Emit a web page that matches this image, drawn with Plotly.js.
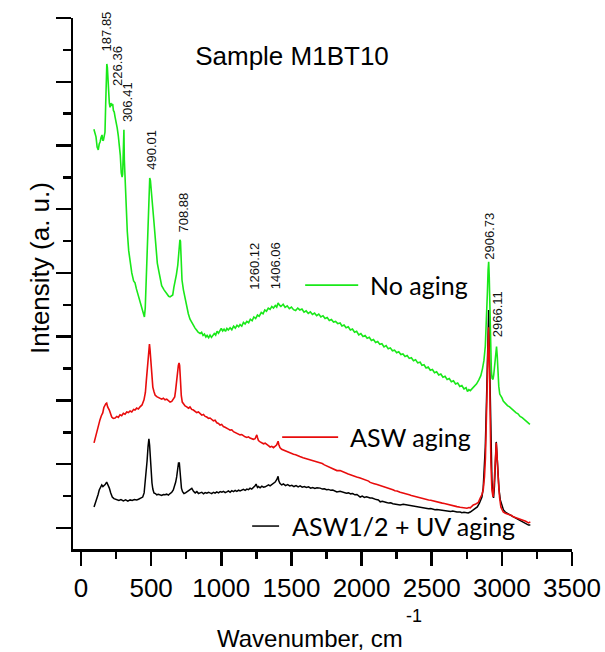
<!DOCTYPE html>
<html>
<head>
<meta charset="utf-8">
<script src="https://cdn.plot.ly/plotly-3.0.1.min.js"></script>
<style>html,body{margin:0;padding:0;background:#fff;}#chart{width:605px;height:652px;}</style>
</head>
<body>
<div id="chart"></div>
<script>
// ---- Data (wavenumber in cm^-1, intensity in arbitrary units) ----
const noAgingX = [92,100,107,115,123,130,136,143,150,155,160,166,171,176,180,184,188,192,197,202,207,213,219,226,231,237,243,250,258,266,273,280,287,293,297,302,306,309,314,321,330,340,350,362,375,385,395,405,415,425,435,445,452,458,465,472,478,484,490,495,500,505,511,520,528,536,544,555,564,575,592,605,615,625,635,645,654,662,670,680,690,696,701,705,709,713,720,730,742,754,765,777,790,800,813,825,835,849,860,870,880,890,899,910,920,930,941,950,960,970,980,991,1000,1010,1020,1030,1040,1050,1063,1075,1088,1100,1112,1124,1134,1146,1158,1170,1182,1195,1207,1220,1232,1245,1258,1270,1285,1298,1310,1322,1335,1348,1360,1372,1385,1395,1405,1415,1425,1441,1455,1470,1485,1500,1515,1530,1545,1560,1575,1590,1605,1620,1635,1650,1665,1680,1695,1710,1725,1740,1755,1770,1785,1800,1815,1830,1847,1860,1875,1890,1905,1920,1935,1950,1965,1980,1995,2010,2025,2040,2055,2070,2085,2100,2115,2130,2145,2160,2175,2190,2205,2220,2235,2250,2265,2280,2295,2310,2325,2340,2355,2370,2385,2400,2418,2430,2445,2460,2475,2490,2505,2520,2535,2550,2565,2580,2595,2610,2625,2640,2655,2670,2685,2700,2715,2730,2745,2755,2765,2775,2790,2805,2820,2835,2850,2862,2872,2882,2890,2897,2902,2906,2910,2915,2920,2925,2930,2937,2942,2950,2957,2962,2967,2972,2978,2985,2993,3001,3010,3025,3040,3055,3070,3085,3100,3115,3130,3145,3160,3175,3190,3200];
const noAgingY = [12.51,12.35,12.27,11.95,11.86,12.05,12.11,12.25,12.33,12.15,12.17,12.30,12.42,13.30,14.20,14.56,14.45,13.96,13.50,13.33,13.20,13.33,13.27,13.30,13.10,13.05,12.89,12.75,12.55,12.30,12.08,11.70,11.14,11.01,11.10,11.80,12.49,11.55,11.00,10.07,9.30,8.70,8.31,8.00,7.75,7.69,7.50,7.35,7.20,7.06,6.85,6.68,6.62,6.90,7.90,9.00,9.90,10.60,10.98,10.90,10.70,10.35,10.07,9.60,9.13,8.70,8.31,8.05,7.78,7.60,7.47,7.38,7.31,7.27,7.25,7.28,7.31,7.55,7.69,7.95,8.25,8.60,8.95,9.04,9.00,8.31,7.78,7.47,7.20,6.93,6.72,6.55,6.44,6.36,6.27,6.20,6.14,6.10,6.14,6.04,6.08,5.99,6.04,5.97,6.05,5.98,6.04,6.10,6.05,6.17,6.11,6.21,6.26,6.18,6.24,6.17,6.26,6.21,6.28,6.22,6.33,6.27,6.36,6.31,6.38,6.33,6.45,6.40,6.48,6.44,6.55,6.50,6.62,6.57,6.68,6.64,6.76,6.72,6.84,6.80,6.90,6.86,6.95,6.90,6.98,6.93,7.06,6.99,6.95,7.02,6.92,6.97,6.88,6.93,6.85,6.82,6.90,6.84,6.87,6.77,6.81,6.73,6.78,6.70,6.74,6.66,6.71,6.62,6.66,6.57,6.60,6.51,6.54,6.46,6.48,6.41,6.43,6.34,6.37,6.28,6.31,6.21,6.24,6.14,6.17,6.06,6.10,6.01,6.04,5.95,5.98,5.88,5.91,5.82,5.85,5.76,5.78,5.68,5.72,5.62,5.65,5.56,5.58,5.50,5.53,5.44,5.46,5.38,5.41,5.32,5.34,5.25,5.28,5.18,5.20,5.10,5.12,5.02,5.05,4.95,4.97,4.87,4.90,4.80,4.83,4.73,4.76,4.66,4.69,4.59,4.62,4.52,4.55,4.44,4.47,4.36,4.40,4.28,4.34,4.31,4.38,4.45,4.52,4.64,4.78,5.00,5.25,5.70,6.40,7.40,8.10,8.35,7.90,6.80,5.60,4.95,4.70,4.66,4.80,5.25,5.60,5.69,5.40,4.85,4.45,4.20,4.15,4.08,3.98,3.90,3.84,3.80,3.73,3.68,3.62,3.58,3.50,3.46,3.40,3.37,3.30,3.25];

// [wavenumber, intensity] pairs
const aswData = [[93,2.67],[100,2.80],[112,2.98],[125,3.22],[135,3.39],[145,3.52],[155,3.61],[163,3.78],[171,3.86],[177,3.90],[183,3.92],[190,3.80],[202,3.70],[210,3.58],[219,3.48],[230,3.44],[243,3.45],[255,3.50],[266,3.47],[278,3.55],[290,3.52],[302,3.60],[314,3.57],[326,3.64],[338,3.62],[350,3.67],[362,3.64],[375,3.72],[385,3.70],[397,3.76],[409,3.73],[421,3.80],[435,3.86],[449,4.02],[459,4.25],[466,4.64],[472,5.00],[478,5.36],[483,5.60],[488,5.77],[492,5.60],[496,5.30],[500,5.05],[505,4.70],[512,4.42],[520,4.28],[528,4.17],[540,4.12],[552,4.10],[563,4.08],[575,4.04],[587,4.07],[599,4.02],[611,4.04],[623,3.98],[635,3.95],[647,3.97],[658,4.03],[668,4.11],[674,4.30],[679,4.55],[684,4.75],[689,4.95],[694,5.10],[699,5.18],[703,5.10],[707,4.80],[711,4.42],[715,4.15],[722,3.95],[730,3.90],[742,3.83],[754,3.80],[766,3.76],[777,3.80],[789,3.72],[801,3.70],[813,3.66],[825,3.62],[837,3.64],[849,3.58],[861,3.54],[873,3.56],[885,3.50],[897,3.48],[909,3.44],[920,3.45],[932,3.40],[944,3.36],[956,3.38],[968,3.30],[980,3.28],[991,3.23],[1003,3.25],[1015,3.18],[1027,3.16],[1039,3.14],[1051,3.10],[1063,3.07],[1075,3.08],[1087,3.02],[1099,3.00],[1111,2.97],[1123,2.95],[1134,2.92],[1146,2.93],[1158,2.88],[1170,2.86],[1182,2.84],[1194,2.86],[1205,2.82],[1217,2.80],[1229,2.78],[1241,2.80],[1248,2.86],[1253,2.92],[1258,2.84],[1265,2.74],[1277,2.70],[1289,2.68],[1301,2.64],[1313,2.66],[1325,2.60],[1336,2.58],[1348,2.54],[1360,2.56],[1372,2.52],[1384,2.55],[1394,2.60],[1400,2.66],[1405,2.72],[1410,2.62],[1418,2.52],[1430,2.47],[1441,2.45],[1455,2.42],[1470,2.38],[1485,2.36],[1500,2.34],[1515,2.31],[1530,2.30],[1545,2.26],[1560,2.24],[1583,2.20],[1600,2.18],[1615,2.16],[1630,2.14],[1645,2.12],[1660,2.10],[1675,2.08],[1690,2.07],[1705,2.04],[1720,2.02],[1735,1.98],[1750,1.95],[1765,1.94],[1780,1.90],[1795,1.87],[1810,1.85],[1824,1.80],[1847,1.80],[1860,1.77],[1875,1.74],[1890,1.72],[1905,1.69],[1920,1.67],[1935,1.64],[1950,1.62],[1965,1.60],[1990,1.57],[2005,1.55],[2020,1.52],[2035,1.50],[2050,1.47],[2061,1.43],[2075,1.42],[2090,1.39],[2105,1.37],[2120,1.35],[2133,1.34],[2148,1.32],[2163,1.29],[2178,1.27],[2193,1.25],[2208,1.22],[2223,1.20],[2238,1.17],[2253,1.16],[2275,1.12],[2297,1.10],[2310,1.08],[2325,1.06],[2340,1.04],[2355,1.02],[2370,1.00],[2385,0.98],[2400,0.96],[2418,0.94],[2433,0.93],[2448,0.91],[2463,0.90],[2478,0.88],[2493,0.87],[2508,0.85],[2523,0.84],[2537,0.82],[2561,0.80],[2575,0.78],[2590,0.77],[2605,0.75],[2620,0.73],[2635,0.72],[2650,0.70],[2665,0.69],[2680,0.67],[2703,0.65],[2715,0.64],[2730,0.63],[2751,0.62],[2765,0.64],[2775,0.63],[2786,0.68],[2796,0.72],[2810,0.74],[2822,0.77],[2832,0.80],[2846,0.94],[2858,1.05],[2867,1.19],[2876,1.60],[2883,2.20],[2889,3.07],[2895,4.40],[2901,5.68],[2906,6.30],[2911,5.20],[2916,3.60],[2922,2.04],[2929,1.20],[2937,0.97],[2944,1.30],[2950,1.90],[2956,2.40],[2960,2.67],[2964,2.40],[2969,1.90],[2976,1.41],[2984,0.95],[2993,0.66],[3001,0.58],[3010,0.50],[3025,0.46],[3040,0.44],[3055,0.40],[3070,0.39],[3081,0.35],[3095,0.33],[3110,0.30],[3125,0.29],[3140,0.26],[3155,0.24],[3170,0.21],[3190,0.16],[3203,0.19]];

const uvData = [[93,0.66],[100,0.75],[112,0.88],[122,1.05],[130,1.19],[140,1.30],[148,1.35],[156,1.30],[164,1.32],[172,1.36],[183,1.44],[190,1.38],[202,1.25],[212,1.10],[223,0.97],[235,0.92],[255,0.88],[270,0.86],[285,0.89],[302,0.85],[318,0.88],[334,0.84],[350,0.88],[365,0.86],[380,0.89],[397,0.88],[410,0.90],[425,0.93],[440,0.97],[450,1.10],[458,1.41],[465,1.75],[471,2.10],[478,2.55],[484,2.80],[489,2.60],[494,2.13],[500,1.70],[506,1.41],[512,1.22],[520,1.10],[530,1.08],[540,1.04],[552,1.06],[563,1.04],[575,1.02],[587,1.05],[599,1.04],[611,1.06],[623,1.03],[635,1.08],[647,1.12],[658,1.19],[668,1.30],[675,1.44],[682,1.60],[689,1.85],[695,2.04],[701,2.04],[706,1.80],[711,1.45],[716,1.25],[724,1.14],[734,1.08],[745,1.10],[756,1.13],[768,1.18],[780,1.20],[790,1.24],[802,1.15],[814,1.10],[826,1.14],[838,1.08],[849,1.10],[861,1.12],[873,1.07],[885,1.11],[897,1.09],[909,1.12],[920,1.10],[932,1.08],[944,1.12],[956,1.09],[968,1.13],[980,1.10],[992,1.14],[1004,1.12],[1016,1.15],[1028,1.11],[1039,1.13],[1051,1.16],[1063,1.12],[1075,1.17],[1087,1.14],[1099,1.18],[1111,1.15],[1123,1.19],[1134,1.16],[1146,1.19],[1158,1.21],[1170,1.18],[1182,1.22],[1194,1.20],[1205,1.25],[1217,1.22],[1229,1.26],[1241,1.32],[1248,1.38],[1253,1.33],[1258,1.27],[1265,1.30],[1277,1.26],[1289,1.31],[1301,1.28],[1313,1.29],[1325,1.33],[1337,1.35],[1348,1.32],[1360,1.36],[1372,1.38],[1384,1.44],[1396,1.52],[1401,1.60],[1405,1.62],[1410,1.48],[1418,1.40],[1430,1.35],[1443,1.38],[1458,1.33],[1473,1.36],[1488,1.32],[1503,1.34],[1518,1.30],[1533,1.33],[1548,1.29],[1562,1.32],[1577,1.28],[1592,1.30],[1607,1.27],[1622,1.29],[1637,1.25],[1652,1.27],[1667,1.24],[1682,1.26],[1705,1.25],[1720,1.22],[1735,1.23],[1750,1.20],[1765,1.21],[1780,1.18],[1795,1.19],[1810,1.16],[1824,1.13],[1847,1.15],[1862,1.13],[1877,1.12],[1892,1.09],[1907,1.10],[1922,1.07],[1937,1.08],[1952,1.04],[1967,1.05],[1990,0.97],[2005,1.00],[2020,0.96],[2035,0.98],[2050,0.95],[2061,0.94],[2075,0.94],[2090,0.91],[2105,0.89],[2120,0.88],[2133,0.82],[2148,0.84],[2163,0.81],[2178,0.80],[2193,0.78],[2208,0.79],[2223,0.76],[2238,0.75],[2253,0.74],[2275,0.72],[2297,0.74],[2310,0.73],[2325,0.71],[2340,0.70],[2355,0.68],[2370,0.69],[2385,0.66],[2400,0.65],[2418,0.64],[2433,0.63],[2448,0.62],[2463,0.61],[2478,0.60],[2493,0.61],[2508,0.59],[2523,0.57],[2537,0.58],[2561,0.56],[2575,0.56],[2590,0.55],[2605,0.54],[2620,0.53],[2635,0.52],[2650,0.53],[2665,0.51],[2680,0.50],[2703,0.50],[2715,0.48],[2730,0.49],[2745,0.47],[2760,0.47],[2775,0.50],[2790,0.54],[2805,0.58],[2815,0.62],[2825,0.66],[2840,0.78],[2850,0.90],[2858,0.97],[2867,1.25],[2874,1.70],[2882,2.54],[2889,3.70],[2894,4.64],[2899,5.80],[2903,6.60],[2906,6.84],[2911,5.60],[2917,4.11],[2923,2.60],[2929,1.51],[2935,1.10],[2941,0.94],[2947,1.30],[2953,2.04],[2957,2.50],[2960,2.70],[2964,2.40],[2968,2.00],[2972,1.70],[2980,1.20],[2989,0.88],[3000,0.70],[3012,0.56],[3025,0.50],[3040,0.45],[3055,0.42],[3070,0.38],[3083,0.35],[3098,0.32],[3113,0.28],[3128,0.25],[3143,0.22],[3158,0.18],[3173,0.14],[3190,0.09],[3203,0.09]];

const seriesNames = ['No aging', 'ASW aging', 'ASW1/2 + UV aging'];
const peakValues = [187.85, 226.36, 306.41, 490.01, 708.88, 1260.12, 1406.06, 2906.73, 2966.11];
const chartTitle = 'Sample M1BT10';
const xTitle = 'Wavenumber, cm';
const xTitleSup = '-1';
const yTitle = 'Intensity (a. u.)';

// ---- Presentation (positions / styles) ----
const FONT = 'Liberation Sans, Arial, sans-serif';
const LEG_FONT = 'Lato, Liberation Sans, sans-serif';
const GREEN = 'rgb(25,232,25)', RED = 'rgb(232,12,12)', BLACK = 'rgb(0,0,0)';
const W = 605, H = 652, M = {l: 73, r: 33, t: 18, b: 103};
const PW = W - M.l - M.r, PH = H - M.t - M.b;
const px2paperX = px => (px - M.l) / PW;
const px2paperY = py => (H - M.b - py) / PH;

const peakLabelY = [15.59, 14.49, 13.36, 11.86, 9.91, 8.22, 8.22, 9.16, 6.71];
const peakLabelShift = [-1, 4, 3, 2, 3, -3, -2, 0, 0];

const traces = [
  {x: uvData.map(p => p[0]), y: uvData.map(p => p[1]), name: seriesNames[2], mode: 'lines', line: {color: BLACK, width: 1.5}},
  {x: aswData.map(p => p[0]), y: aswData.map(p => p[1]), name: seriesNames[1], mode: 'lines', line: {color: RED, width: 1.6}},
  {x: noAgingX, y: noAgingY, name: seriesNames[0], mode: 'lines', line: {color: GREEN, width: 1.6}}
];

const annotations = peakValues.map((v, i) => ({
  x: v, y: peakLabelY[i], xref: 'x', yref: 'y', text: v.toFixed(2), textangle: -90,
  showarrow: false, xshift: peakLabelShift[i], font: {family: FONT, size: 13, color: '#111'},
  xanchor: 'center', yanchor: 'middle'
}));

const legendSpots = [
  {x0: 1598, x1: 1976, tx: 2047, y: 7.62, color: GREEN, width: 1.6},
  {x0: 1434, x1: 1833, tx: 1904, y: 2.85, color: RED, width: 1.6},
  {x0: 1220, x1: 1412, tx: 1491, y: 0.06, color: BLACK, width: 1.5}
];
const shapes = legendSpots.map(s => ({
  type: 'line', xref: 'x', yref: 'y', x0: s.x0, x1: s.x1, y0: s.y, y1: s.y,
  line: {color: s.color, width: s.width}
}));
legendSpots.forEach((s, i) => annotations.push({
  x: s.tx, y: s.y, xref: 'x', yref: 'y', text: seriesNames[i], showarrow: false,
  xanchor: 'left', yanchor: 'middle', font: {family: LEG_FONT, size: 25, color: '#000'}
}));
// x axis title and its superscript
annotations.push({
  x: px2paperX(405), y: px2paperY(638.5), xref: 'paper', yref: 'paper', text: xTitle, showarrow: false,
  font: {family: FONT, size: 24, color: '#000'}, xanchor: 'right', yanchor: 'middle'
});
annotations.push({
  x: px2paperX(404), y: px2paperY(616), xref: 'paper', yref: 'paper', text: xTitleSup, showarrow: false,
  font: {family: FONT, size: 18, color: '#000'}, xanchor: 'left', yanchor: 'middle'
});
// y axis title
annotations.push({
  x: px2paperX(40), y: px2paperY(268), xref: 'paper', yref: 'paper', text: yTitle, textangle: -90,
  showarrow: false, font: {family: FONT, size: 26, color: '#000'}, xanchor: 'center', yanchor: 'middle'
});

const layout = {
  width: W, height: H, margin: M,
  paper_bgcolor: '#fff', plot_bgcolor: '#fff',
  showlegend: false,
  title: {text: chartTitle, x: 292/W, xref: 'container', xanchor: 'center', y: 1 - 56/H, yref: 'container', yanchor: 'middle', font: {family: FONT, size: 26, color: '#000'}},
  xaxis: {
    range: [-57, 3500], showline: true, linecolor: '#000', linewidth: 2.5,
    ticks: 'outside', ticklen: 14, tickwidth: 2.5, tickcolor: '#000', dtick: 500, tick0: 0,
    minor: {dtick: 250, tick0: 0, ticks: 'outside', ticklen: 7, tickwidth: 2.5, tickcolor: '#000', showgrid: false},
    showgrid: false, zeroline: false,
    tickfont: {family: FONT, size: 26, color: '#000'}
  },
  yaxis: {
    range: [-0.66, 16], showline: true, linecolor: '#000', linewidth: 2.5,
    ticks: 'outside', ticklen: 15, tickwidth: 2.5, tickcolor: '#000', dtick: 2, tick0: 0,
    minor: {dtick: 1, tick0: 0, ticks: 'outside', ticklen: 8, tickwidth: 2.5, tickcolor: '#000', showgrid: false},
    showticklabels: false, showgrid: false, zeroline: false
  },
  shapes: shapes,
  annotations: annotations
};

Plotly.newPlot('chart', traces, layout, {staticPlot: true, displayModeBar: false});
</script>
</body>
</html>
